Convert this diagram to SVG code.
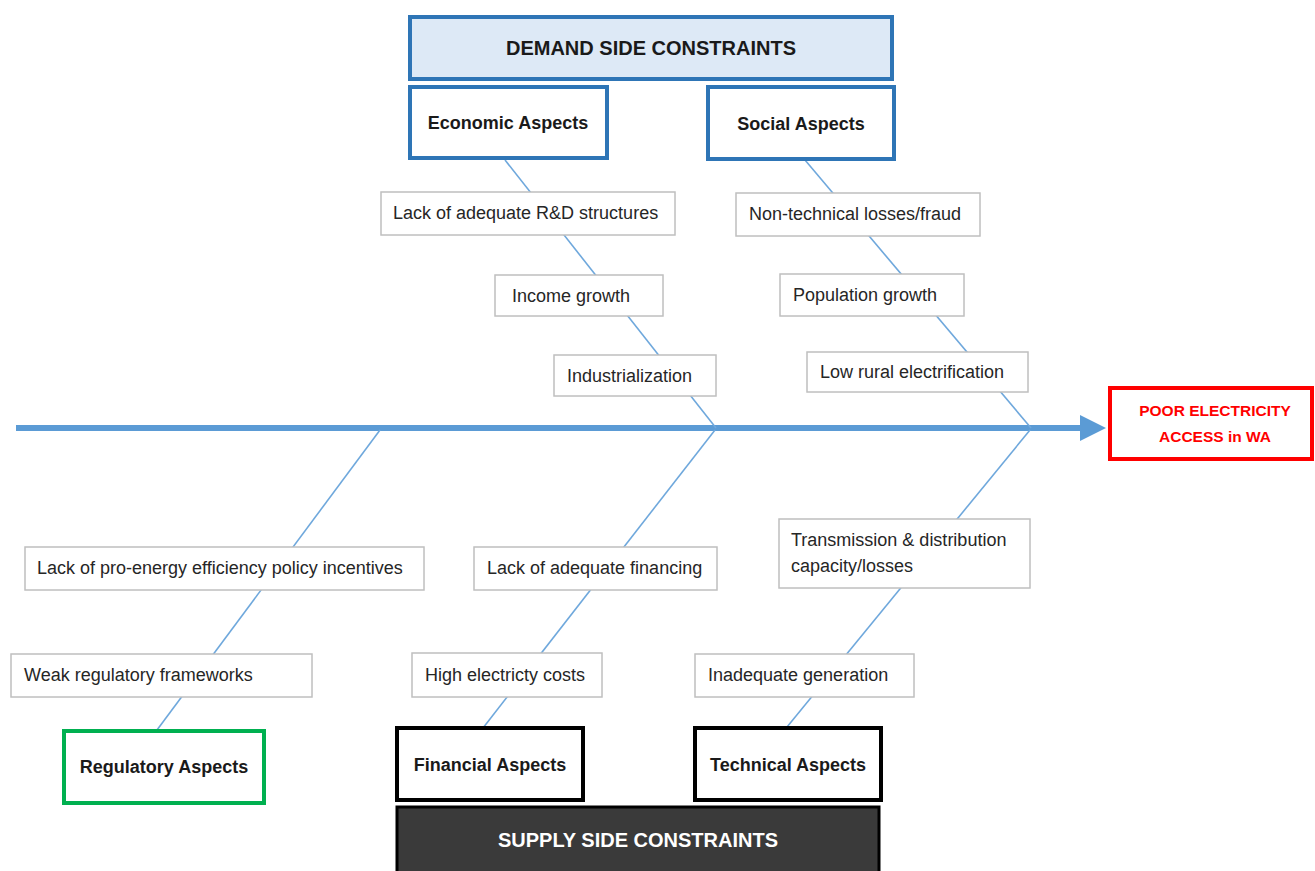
<svg xmlns="http://www.w3.org/2000/svg" width="1315" height="871" viewBox="0 0 1315 871">
<style>
.t{font-family:"Liberation Sans",Arial,sans-serif;font-size:18px;fill:#262626}
.b{font-family:"Liberation Sans",Arial,sans-serif;font-weight:bold;font-size:18px;fill:#1a1a1a;text-anchor:middle}
.cause{fill:#fff;stroke:#bfbfbf;stroke-width:1.5}
.blue{fill:#fff;stroke:#2e75b6;stroke-width:4}
.blk{fill:#fff;stroke:#000;stroke-width:4}
.bone{stroke:#6fa8dc;stroke-width:1.6;fill:none}
</style>
<rect width="1315" height="871" fill="#fff"/>
<g id="connectors">
<line x1="16" y1="428" x2="1084" y2="428" stroke="#5b9bd5" stroke-width="6"/>
<polygon points="1080,415 1106,428 1080,441" fill="#5b9bd5"/>
<line class="bone" x1="505" y1="160" x2="716" y2="428"/>
<line class="bone" x1="805" y1="160" x2="1031" y2="428"/>
<line class="bone" x1="380" y1="430" x2="157" y2="730"/>
<line class="bone" x1="715" y1="430" x2="483" y2="728"/>
<line class="bone" x1="1030" y1="430" x2="787" y2="727"/>
</g>
<g id="demand">
<rect x="410" y="17" width="482" height="62" fill="#dde9f6" stroke="#2e75b6" stroke-width="4"/>
<text class="b" x="651" y="55" style="font-size:20px">DEMAND SIDE CONSTRAINTS</text>
</g>
<g id="economic">
<rect class="blue" x="410" y="87" width="197" height="71"/>
<text class="b" x="508" y="129">Economic Aspects</text>
</g>
<g id="social">
<rect class="blue" x="708" y="87" width="186" height="72"/>
<text class="b" x="801" y="130">Social Aspects</text>
</g>
<g id="rd">
<rect class="cause" x="381" y="192" width="294" height="43"/>
<text class="t" x="393" y="219">Lack of adequate R&amp;D structures</text>
</g>
<g id="income">
<rect class="cause" x="495" y="275" width="168" height="41"/>
<text class="t" x="512" y="302">Income growth</text>
</g>
<g id="industrialization">
<rect class="cause" x="554" y="355" width="162" height="41"/>
<text class="t" x="567" y="382">Industrialization</text>
</g>
<g id="nontech">
<rect class="cause" x="736" y="193" width="244" height="43"/>
<text class="t" x="749" y="220">Non-technical losses/fraud</text>
</g>
<g id="population">
<rect class="cause" x="780" y="274" width="184" height="42"/>
<text class="t" x="793" y="301">Population growth</text>
</g>
<g id="rural">
<rect class="cause" x="807" y="352" width="221" height="40"/>
<text class="t" x="820" y="378">Low rural electrification</text>
</g>
<g id="effect">
<rect x="1110" y="388" width="202" height="71" fill="#fff" stroke="#ff0000" stroke-width="4"/>
<text class="b" x="1215" y="416" style="font-size:15.5px;fill:#ff0000">POOR ELECTRICITY</text>
<text class="b" x="1215" y="442" style="font-size:15.5px;fill:#ff0000">ACCESS in WA</text>
</g>
<g id="policy">
<rect class="cause" x="25" y="547" width="399" height="43"/>
<text class="t" x="37" y="574">Lack of pro-energy efficiency policy incentives</text>
</g>
<g id="weakreg">
<rect class="cause" x="11" y="654" width="301" height="43"/>
<text class="t" x="24" y="681">Weak regulatory frameworks</text>
</g>
<g id="financing">
<rect class="cause" x="474" y="547" width="243" height="43"/>
<text class="t" x="487" y="574">Lack of adequate financing</text>
</g>
<g id="costs">
<rect class="cause" x="412" y="653" width="190" height="44"/>
<text class="t" x="425" y="681">High electricty costs</text>
</g>
<g id="transmission">
<rect class="cause" x="779" y="519" width="251" height="69"/>
<text class="t" x="791" y="546">Transmission &amp; distribution</text>
<text class="t" x="791" y="572">capacity/losses</text>
</g>
<g id="generation">
<rect class="cause" x="695" y="654" width="219" height="43"/>
<text class="t" x="708" y="681">Inadequate generation</text>
</g>
<g id="regulatory">
<rect x="64" y="731" width="200" height="72" fill="#fff" stroke="#00b050" stroke-width="4"/>
<text class="b" x="164" y="773">Regulatory Aspects</text>
</g>
<g id="financial">
<rect class="blk" x="397" y="728" width="186" height="72"/>
<text class="b" x="490" y="771">Financial Aspects</text>
</g>
<g id="technical">
<rect class="blk" x="695" y="728" width="186" height="72"/>
<text class="b" x="788" y="771">Technical Aspects</text>
</g>
<g id="supply">
<rect x="397" y="807" width="482" height="70" fill="#3a3a3a" stroke="#000" stroke-width="3"/>
<text class="b" x="638" y="847" style="font-size:20px;fill:#fff">SUPPLY SIDE CONSTRAINTS</text>
</g>
</svg>
